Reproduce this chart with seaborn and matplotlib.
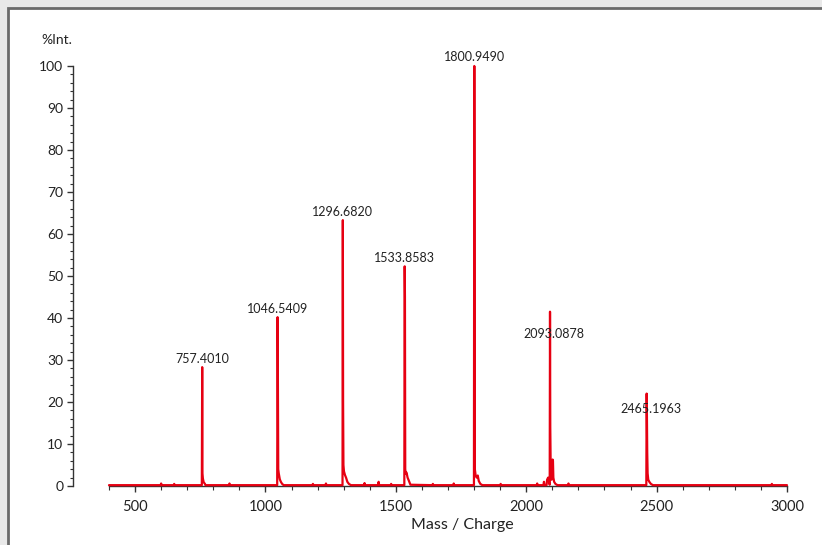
import matplotlib
matplotlib.use("Agg")
import matplotlib.pyplot as plt
from matplotlib.patches import Rectangle
from matplotlib.ticker import MultipleLocator
import pandas as pd
import seaborn as sns

# Profile trace: m/z and relative intensity (%)
MZ = [400, 598, 600, 602, 648, 650, 652,
      756, 757.4, 758.4, 760, 763, 768, 770,
      860, 862, 864,
      1045, 1046.5, 1047.5, 1049, 1051, 1055, 1059, 1064, 1070,
      1180, 1182, 1184, 1230, 1232, 1234,
      1295.5, 1296.7, 1297.7, 1299, 1301, 1305, 1309, 1314, 1320, 1328,
      1378, 1380, 1382, 1432, 1434, 1436, 1480, 1482, 1484,
      1532.5, 1533.9, 1534.9, 1536, 1538, 1541, 1545, 1549, 1556,
      1640, 1642, 1644, 1720, 1722, 1724,
      1799.5, 1800.9, 1801.9, 1803, 1806, 1810, 1814, 1818, 1824, 1832,
      1900, 1902, 1904, 2040, 2042, 2044, 2066, 2068, 2070, 2078, 2080, 2084,
      2090, 2091.2, 2092.2, 2094, 2097, 2101, 2102.5, 2104, 2107, 2112, 2120,
      2160, 2162, 2164,
      2460.5, 2461.8, 2462.8, 2464, 2465.5, 2468, 2472, 2478, 2486,
      2940, 2942, 2944, 3000]
INTENSITY = [0.2, 0.2, 0.6, 0.2, 0.2, 0.5, 0.2,
             0.2, 28.3, 3.0, 1.8, 0.9, 0.5, 0.2,
             0.2, 0.6, 0.2,
             0.2, 40.2, 28.0, 4.0, 3.0, 1.6, 1.0, 0.5, 0.2,
             0.2, 0.5, 0.2, 0.2, 0.6, 0.2,
             0.2, 63.3, 20.0, 5.0, 3.5, 2.6, 2.0, 1.0, 0.5, 0.2,
             0.2, 0.7, 0.2, 0.2, 1.0, 0.2, 0.2, 0.5, 0.2,
             0.2, 52.3, 45.0, 4.0, 3.0, 3.2, 2.0, 1.4, 0.3,
             0.2, 0.5, 0.2, 0.2, 0.6, 0.2,
             0.2, 100.0, 60.0, 4.0, 2.5, 2.0, 2.5, 1.2, 0.5, 0.2,
             0.2, 0.5, 0.2, 0.2, 0.6, 0.2, 0.2, 1.0, 0.2, 0.2, 1.5, 2.0,
             0.3, 41.5, 14.0, 3.0, 1.5, 6.3, 6.0, 2.0, 1.0, 0.5, 0.2,
             0.2, 0.6, 0.2,
             0.2, 22.0, 17.0, 8.0, 3.0, 1.5, 1.0, 0.5, 0.2,
             0.2, 0.5, 0.2, 0.2]

# Annotated peaks
PEAK_LABELS = ["757.4010", "1046.5409", "1296.6820", "1533.8583",
               "1800.9490", "2093.0878", "2465.1963"]
PEAK_MZ = [757.4, 1046.5, 1296.7, 1533.9, 1800.9, 2091.2, 2461.8]
PEAK_INT = [28.3, 40.2, 63.3, 52.3, 100.0, 41.5, 22.0]

RED = "#e60012"

sns.set_style("ticks")
plt.rcParams["font.family"] = ["Lato", "DejaVu Sans"]

fig = plt.figure(figsize=(8.22, 5.45), dpi=100)
fig.patch.set_facecolor("#e9e9e9")
# white panel with a dark frame on the top and left edges
fig.patches.append(Rectangle((8 / 822, -0.1), 1.2, 1.1 - 8 / 545,
                             transform=fig.transFigure, facecolor="white",
                             edgecolor="#6b6b6b", linewidth=2, zorder=-10))

ax = fig.add_axes([109 / 822, (545 - 486) / 545, (787 - 109) / 822, (486 - 66) / 545])
ax.set_zorder(5)
ax.set_facecolor("none")

df = pd.DataFrame({"mz": MZ, "intensity": INTENSITY})
sns.lineplot(data=df, x="mz", y="intensity", estimator=None, sort=False,
             color=RED, linewidth=1.6, ax=ax, clip_on=False, zorder=3)

# peak annotations (two labels sit lower and to the right of their peak)
for label, x, y in zip(PEAK_LABELS, PEAK_MZ, PEAK_INT):
    if label.startswith("2093"):
        ax.text(x + 15, y - 5.3, label, ha="center", va="center", fontsize=9, color="#222222", zorder=4)
    elif label.startswith("2465"):
        ax.text(x + 16, y - 3.7, label, ha="center", va="center", fontsize=9, color="#222222", zorder=4)
    else:
        ax.text(x, y + 0.6, label, ha="center", va="bottom", fontsize=9, color="#222222", zorder=4)

ax.set_xlim(400, 3000)
ax.set_ylim(0, 100)
ax.xaxis.set_major_locator(MultipleLocator(500))
ax.xaxis.set_minor_locator(MultipleLocator(100))
ax.yaxis.set_major_locator(MultipleLocator(10))
ax.yaxis.set_minor_locator(MultipleLocator(2))
ax.set_xticks([500, 1000, 1500, 2000, 2500, 3000])

ax.spines["top"].set_visible(False)
ax.spines["right"].set_visible(False)
ax.spines["left"].set_position(("outward", 26))
for side in ("left", "bottom"):
    ax.spines[side].set_color("#333333")
    ax.spines[side].set_linewidth(1.0)

ax.tick_params(axis="x", which="major", length=4, width=1, color="#333333", labelsize=10.5, pad=6, labelcolor="#222222")
ax.tick_params(axis="x", which="minor", length=3, width=0.8, color="#333333")
ax.tick_params(axis="y", which="major", length=4, width=1, color="#333333", labelsize=10, pad=3, labelcolor="#222222")
ax.tick_params(axis="y", which="minor", length=2.5, width=0.8, color="#333333")

ax.set_xlabel("Mass / Charge", fontsize=11.5, color="#222222")
ax.xaxis.set_label_coords((462 - 109) / 678, -0.075)
ax.set_ylabel("")
fig.text(57 / 822, 1 - 40 / 545, "%Int.", ha="center", va="center", fontsize=10, color="#222222")

fig.savefig("out.png", dpi=100, facecolor=fig.get_facecolor())
